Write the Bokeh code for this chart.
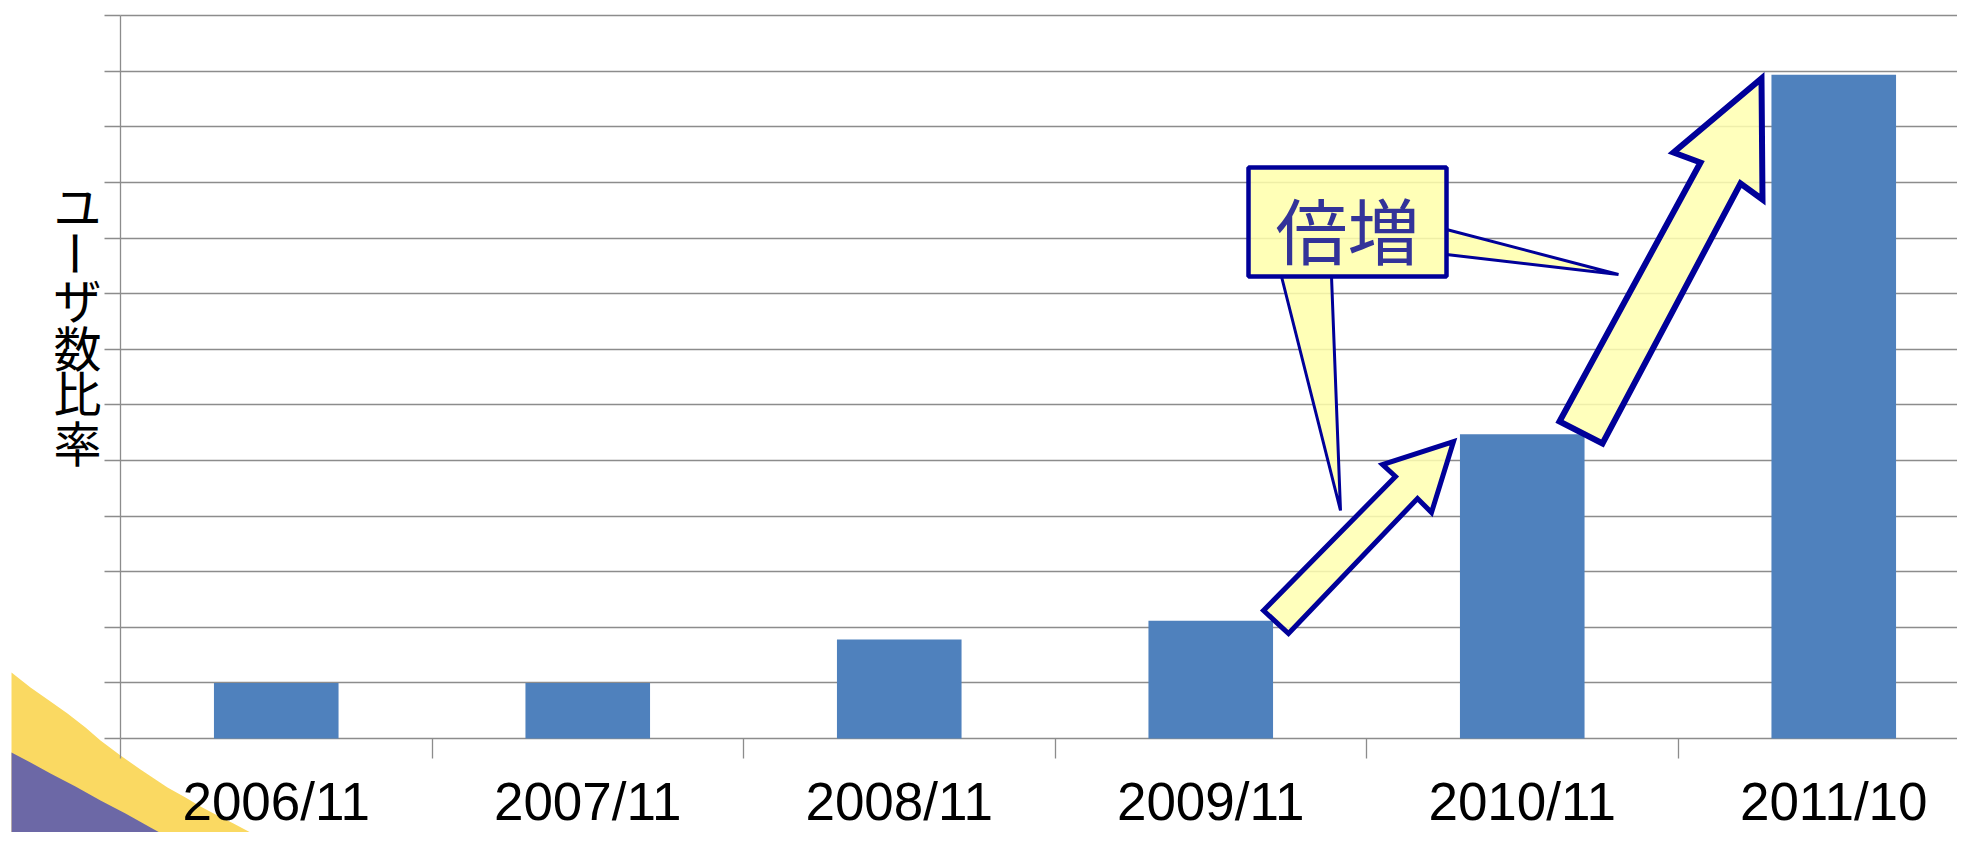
import math
from bokeh.plotting import figure
from bokeh.models import Range1d, FixedTicker
from bokeh.core.properties import value
from bokeh.embed import file_html
from bokeh.resources import INLINE

# ---------------- data ----------------
categories = ["2006/11", "2007/11", "2008/11", "2009/11", "2010/11", "2011/10"]
user_ratio = [1.0, 1.0, 1.78, 2.12, 5.47, 11.94]
y_ticks = list(range(0, 14))
y_title_chars = ["ユ", "ー", "ザ", "数", "比", "率"]
callout_text = "倍増"

# ---------------- layout helpers (picture pixels -> data) ----------------
W, H = 1957, 832
OFF = 0
PX0, PX_UNIT = 120.0, 311.5
PY0, PY_UNIT = 738.0, 55.6


def dx(px):
    return (px - PX0) / PX_UNIT


def dy(py):
    return (PY0 - py) / PY_UNIT


def conv(pts):
    return [dx(a) for a, b in pts], [dy(b) for a, b in pts]


GRID = "#8c8c8c"
BAR = "#4F81BD"
NAVY = "#000099"

p = figure(width=W, height=H, output_backend="svg", toolbar_location=None,
           x_range=Range1d(dx(OFF), dx(OFF + W)),
           y_range=Range1d(dy(OFF + H), dy(OFF)),
           min_border=0, outline_line_color=None,
           background_fill_color="white", border_fill_color="white")

# ---------------- decorative template swoosh ----------------
yellow_edge = [(11, 672), (30, 687), (50, 701), (67, 713), (85, 727), (100, 740),
               (120, 755), (140, 769), (167, 787), (185, 797), (200, 806), (217, 815),
               (233, 823), (250, 832), (267, 840), (285, 849)]
purple_edge = [(11, 752), (30, 762), (50, 773), (75, 786), (100, 800), (125, 813),
               (150, 827), (170, 838), (190, 850)]
yx, yy = conv(yellow_edge + [(11, 860)])
p.patch(yx, yy, fill_color="#FAD962", line_color=None)
ux, uy = conv(purple_edge + [(11, 860)])
p.patch(ux, uy, fill_color="#6C68A6", line_color=None)

# ---------------- bars ----------------
x_centers = [i + 0.5 for i in range(len(categories))]
p.vbar(x=x_centers, top=user_ratio, bottom=0, width=0.40, fill_color=BAR, line_color=None)

# ---------------- grid / axes ----------------
p.xgrid.visible = False
p.ygrid.ticker = FixedTicker(ticks=y_ticks)
p.ygrid.cross_bounds = (0, dx(OFF + W))
p.ygrid.grid_line_color = GRID
p.ygrid.grid_line_width = 1.3

xa = p.xaxis[0]
xa.fixed_location = 0
xa.ticker = FixedTicker(ticks=x_centers, minor_ticks=list(range(len(categories) + 1)))
xa.major_label_overrides = {c: lab for c, lab in zip(x_centers, categories)}
xa.major_tick_out = 0
xa.major_tick_in = 0
xa.minor_tick_out = 20
xa.minor_tick_in = 0
xa.minor_tick_line_color = GRID
xa.minor_tick_line_width = 1.3
xa.axis_line_color = None
xa.major_label_text_font = "Liberation Sans"
xa.major_label_text_font_size = "53px"
xa.major_label_text_color = "black"
xa.major_label_standoff = 13

ya = p.yaxis[0]
ya.fixed_location = 0
ya.ticker = FixedTicker(ticks=y_ticks)
ya.bounds = (0, 13)
ya.major_label_overrides = {t: "" for t in y_ticks}
ya.major_tick_out = 16
ya.major_tick_in = 0
ya.minor_tick_out = 0
ya.minor_tick_in = 0
ya.major_tick_line_color = GRID
ya.major_tick_line_width = 1.3
ya.axis_line_color = GRID
ya.axis_line_width = 1.3

# ---------------- vertical y-axis title ----------------
title_py = [203, 253, 297, 345, 390, 440]
angles = [(-math.pi / 2 if ch == "ー" else 0.0) for ch in y_title_chars]
p.text(x=[dx(77)] * len(y_title_chars), y=[dy(v) for v in title_py], text=y_title_chars,
       angle=angles, text_font=value("Noto Sans CJK JP"), text_font_size="48px",
       text_color="black", text_align="center", text_baseline="middle")

# ---------------- block arrows ----------------
small_arrow = [(1263, 610), (1395, 476), (1382, 464), (1453, 441), (1431, 512),
               (1417, 498), (1288, 633)]
big_arrow = [(1559, 421), (1700, 162), (1673, 152), (1761, 78), (1762, 199),
             (1740, 183), (1602, 443)]
sx, sy = conv(small_arrow)
p.patch(sx, sy, fill_color="#FFFFB0", fill_alpha=0.85, line_color=NAVY, line_width=5,
        line_join="miter")
bx, by = conv(big_arrow)
p.patch(bx, by, fill_color="#FFFFB0", fill_alpha=0.85, line_color=NAVY, line_width=6,
        line_join="miter")

# ---------------- callout ----------------
wedge1 = [(1281, 276), (1340, 510), (1331, 276)]
wedge2 = [(1446, 229), (1618, 274), (1446, 254)]
for w in (wedge1, wedge2):
    wx, wy = conv(w)
    p.patch(wx, wy, fill_color="#FFFFAA", fill_alpha=0.85, line_color=None)
    p.line(wx, wy, line_color=NAVY, line_width=3)

p.quad(left=[dx(1248)], right=[dx(1446)], top=[dy(167)], bottom=[dy(276)],
       fill_color="#FFFFAA", fill_alpha=0.85, line_color=NAVY, line_width=4.5)
p.text(x=[dx(1347)], y=[dy(227)], text=[callout_text],
       text_font=value("Noto Sans CJK JP"), text_font_size="72px",
       text_color="#333399", text_align="center", text_baseline="middle")

open("out.html", "w").write(file_html(p, INLINE))
